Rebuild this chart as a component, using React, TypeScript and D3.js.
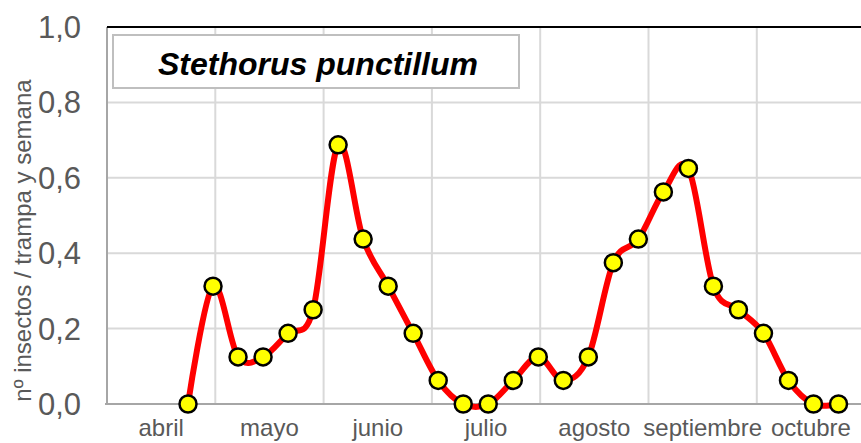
import React from "react";
import * as d3 from "d3";

const months = ["abril", "mayo", "junio", "julio", "agosto", "septiembre", "octubre"];
const yTicks = [0, 0.2, 0.4, 0.6, 0.8, 1.0];
const values = [
  0, 0.3125, 0.125, 0.125, 0.1875, 0.25, 0.6875, 0.4375, 0.3125, 0.1875, 0.0625, 0, 0,
  0.0625, 0.125, 0.0625, 0.125, 0.375, 0.4375, 0.5625, 0.625, 0.3125, 0.25, 0.1875, 0.0625, 0, 0,
];
const title = "Stethorus punctillum";
const yTitle = "nº insectos / trampa y semana";
const firstWeekMonth = 0.748; // position of first sample, in months from start of April
const daysPerMonth = 30.3;

const W = 861;
const H = 443;
const left = 107;
const top = 27;
const bottom = 404;
const monthWidth = 108.3;

export default function App() {
  const x = d3.scaleLinear().domain([0, months.length]).range([left, left + monthWidth * months.length]);
  const y = d3.scaleLinear().domain([0, 1]).range([bottom, top]);
  const pts: [number, number][] = values.map((v, i) => [x(firstWeekMonth + (i * 7) / daysPerMonth), y(v)]);
  const line = d3.line().curve(d3.curveCardinal.tension(0))(pts) || "";
  const font = "'Liberation Sans', Arial, sans-serif";
  const gray = "#595959";
  return (
    <div style={{ position: "absolute", left: 0, top: 0 }}>
      <svg width={W} height={H} style={{ display: "block", background: "#fff" }}>
        {/* horizontal gridlines */}
        {yTicks.slice(1).map((t) => (
          <line key={"h" + t} x1={left} x2={W} y1={y(t)} y2={y(t)} stroke="#d9d9d9" strokeWidth={2} />
        ))}
        {/* vertical gridlines */}
        {d3.range(1, months.length + 1).map((m) => (
          <line key={"v" + m} x1={x(m)} x2={x(m)} y1={top} y2={bottom} stroke="#d9d9d9" strokeWidth={2} />
        ))}
        {/* axes */}
        <line x1={left} x2={left} y1={top} y2={bottom} stroke="#a6a6a6" strokeWidth={2} />
        <line x1={left - 2} x2={W} y1={bottom} y2={bottom} stroke="#a6a6a6" strokeWidth={2} />
        <line x1={left} x2={W} y1={top} y2={top} stroke="#000" strokeWidth={2} />
        {/* title box */}
        <rect x={113} y={35} width={406} height={53} fill="#fff" stroke="#bfbfbf" strokeWidth={2} />
        <text x={318} y={75} textAnchor="middle" fontFamily={font} fontSize={32} fontWeight="bold" fontStyle="italic" fill="#000">
          {title}
        </text>
        {/* y tick labels */}
        {yTicks.map((t) => (
          <text key={"yt" + t} x={81} y={y(t) + 11} textAnchor="end" fontFamily={font} fontSize={31} fill={gray}>
            {t.toFixed(1).replace(".", ",")}
          </text>
        ))}
        {/* y title */}
        <text
          transform={`translate(31,${(top + bottom) / 2 + 25}) rotate(-90)`}
          textAnchor="middle"
          fontFamily={font}
          fontSize={24}
          fill={gray}
        >
          {yTitle}
        </text>
        {/* x labels */}
        {months.map((m, i) => (
          <text key={m} x={x(i + 0.5)} y={436} textAnchor="middle" fontFamily={font} fontSize={24} fill={gray}>
            {m}
          </text>
        ))}
        {/* series */}
        <path d={line} fill="none" stroke="#ff0000" strokeWidth={6} strokeLinejoin="round" />
        {pts.map((p, i) => (
          <circle key={i} cx={p[0]} cy={p[1]} r={8.5} fill="#ffff00" stroke="#000" strokeWidth={2.5} />
        ))}
      </svg>
    </div>
  );
}
